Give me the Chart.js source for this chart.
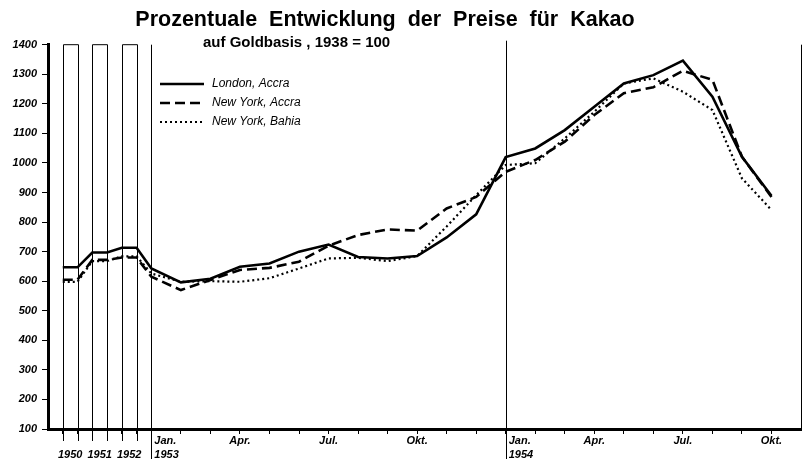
<!DOCTYPE html>
<html>
<head>
<meta charset="utf-8">
<script src="https://cdn.jsdelivr.net/npm/chart.js@4"></script>
<style>
  html, body { margin: 0; padding: 0; background: #fff; }
  #wrap { width: 803px; height: 460px; }
</style>
</head>
<body>
<div id="wrap"><canvas id="c" width="803" height="460"></canvas></div>
<script>
// x = months since Jan. 1953; the yearly figures 1950-52 sit in half-month wide columns
const xPos = [-3, -2.5, -2, -1.5, -1, -0.5,
  0, 1, 2, 3, 4, 5, 6, 7, 8, 9, 10, 11,
  12, 13, 14, 15, 16, 17, 18, 19, 20, 21];

const londonAccra = [647, 647, 697, 697, 713, 713,
  643, 596, 608, 649, 660, 700, 724, 682, 677, 685, 748, 826,
  1020, 1049, 1111, 1190, 1269, 1297, 1346, 1224, 1021, 889];
const newYorkAccra = [605, 605, 672, 672, 680, 680,
  615, 570, 604, 638, 645, 666, 720, 756, 775, 771, 846, 885,
  970, 1010, 1072, 1162, 1236, 1256, 1312, 1281, 1021, 885];
const newYorkBahia = [598, 598, 668, 668, 684, 684,
  626, 598, 600, 598, 610, 643, 677, 679, 668, 685, 785, 891,
  993, 999, 1083, 1173, 1269, 1286, 1241, 1179, 948, 841];

const seriesNames = ["London, Accra", "New York, Accra", "New York, Bahia"];

const yMin = 100, yMax = 1400;
const xMin = -3.5, xMax = 22;

// tick marks under the axis: edges of the year columns, then every month
const xTickMarks = [-3, -2.5, -2, -1.5, -1, -0.5,
  0, 1, 2, 3, 4, 5, 6, 7, 8, 9, 10, 11, 12, 13, 14, 15, 16, 17, 18, 19, 20, 21];
const xLabelAt = [-2.75, -1.75, -0.75, 0, 3, 6, 9, 12, 15, 18, 21];
const xLabelText = [["", "1950"], ["", "1951"], ["", "1952"], ["Jan.", "1953"],
  ["Apr."], ["Jul."], ["Okt."], ["Jan.", "1954"], ["Apr."], ["Jul."], ["Okt."]];

const yearColumns = [[-3, -2.5], [-2, -1.5], [-1, -0.5]];
const dividers = [0, 12, 22];

const pts = (vals) => vals.map((v, i) => ({ x: xPos[i], y: v }));

const LBL = "'Liberation Sans', Arial, sans-serif";

const decor = {
  id: "decor",
  beforeDatasetsDraw(chart) {
    const { ctx, scales: { x, y } } = chart;
    const top = y.getPixelForValue(yMax);
    const base = y.getPixelForValue(yMin);
    ctx.save();
    ctx.strokeStyle = "#000";
    ctx.lineWidth = 1;
    for (const [a, b] of yearColumns) {
      const xa = Math.round(x.getPixelForValue(a)) + 0.5;
      const xb = Math.round(x.getPixelForValue(b)) + 0.5;
      ctx.beginPath();
      ctx.moveTo(xa, base + 12);
      ctx.lineTo(xa, top);
      ctx.lineTo(xb, top);
      ctx.lineTo(xb, base + 12);
      ctx.stroke();
    }
    dividers.forEach((d, i) => {
      const xd = Math.round(x.getPixelForValue(d)) + 0.5;
      ctx.beginPath();
      ctx.moveTo(xd, top - (i === 1 ? 4 : 0));
      ctx.lineTo(xd, i === 2 ? base : base + 30);
      ctx.stroke();
    });
    ctx.restore();
  },
  afterDraw(chart) {
    const { ctx, scales: { x, y } } = chart;
    const base = y.getPixelForValue(yMin);
    ctx.save();
    ctx.fillStyle = "#000";
    ctx.textBaseline = "alphabetic";

    // title
    ctx.font = "bold 21.5px " + LBL;
    ctx.textAlign = "center";
    ctx.fillText("Prozentuale  Entwicklung  der  Preise  für  Kakao", 385, 26);
    ctx.font = "bold 15px " + LBL;
    ctx.textAlign = "left";
    ctx.fillText("auf Goldbasis , 1938 = 100", 203, 47);

    // x labels
    ctx.font = "italic bold 11px " + LBL;
    xLabelText.forEach((lines, i) => {
      const px = x.getPixelForValue(xLabelAt[i]);
      const left = lines[0] === "Jan.";
      ctx.textAlign = left ? "left" : "center";
      const tx = left ? px + 3 : px;
      if (lines[0]) ctx.fillText(lines[0], tx, base + 15);
      if (lines[1]) ctx.fillText(lines[1], tx, base + 29);
    });

    // legend
    const lx = 160, ly = 84;
    chart.data.datasets.forEach((ds, i) => {
      const yy = ly + i * 19;
      ctx.save();
      ctx.lineWidth = ds.borderWidth;
      ctx.setLineDash(ds.borderDash || []);
      ctx.beginPath();
      ctx.moveTo(lx, yy);
      ctx.lineTo(lx + 44, yy);
      ctx.stroke();
      ctx.restore();
      ctx.font = "italic 12px " + LBL;
      ctx.textAlign = "left";
      ctx.textBaseline = "middle";
      ctx.fillText(ds.label, lx + 52, yy);
    });
    ctx.restore();
  }
};

new Chart(document.getElementById("c").getContext("2d"), {
  type: "line",
  data: {
    datasets: [
      { label: seriesNames[0], data: pts(londonAccra), borderColor: "#000", borderWidth: 2.6, borderDash: [] },
      { label: seriesNames[1], data: pts(newYorkAccra), borderColor: "#000", borderWidth: 2.6, borderDash: [10, 5] },
      { label: seriesNames[2], data: pts(newYorkBahia), borderColor: "#000", borderWidth: 2.2, borderDash: [2, 3] }
    ]
  },
  options: {
    responsive: false,
    animation: false,
    layout: { padding: { top: 44.7, right: 2, left: 0, bottom: 0 } },
    elements: { point: { radius: 0 }, line: { tension: 0, borderCapStyle: "butt" } },
    plugins: { legend: { display: false }, tooltip: { enabled: false } },
    scales: {
      x: {
        type: "linear",
        min: xMin,
        max: xMax,
        afterBuildTicks: (s) => { s.ticks = xTickMarks.map((v) => ({ value: v })); },
        afterFit: (s) => { s.height = 31; s.paddingLeft = 0; s.paddingRight = 0; },
        ticks: { display: false },
        grid: { drawOnChartArea: false, drawTicks: true, tickLength: 5, color: "#000", lineWidth: 1 },
        border: { display: true, color: "#000", width: 3 }
      },
      y: {
        min: yMin,
        max: yMax,
        afterFit: (s) => { s.width = 48; s.paddingTop = 0; s.paddingBottom = 0; },
        ticks: {
          stepSize: 100,
          color: "#000",
          padding: 5,
          callback: (v) => String(v),
          font: { family: LBL, size: 11, style: "italic", weight: "bold" }
        },
        grid: { drawOnChartArea: false, drawTicks: true, tickLength: 6, color: "#000", lineWidth: 1 },
        border: { display: true, color: "#000", width: 3 }
      }
    }
  },
  plugins: [decor]
});
</script>
</body>
</html>
